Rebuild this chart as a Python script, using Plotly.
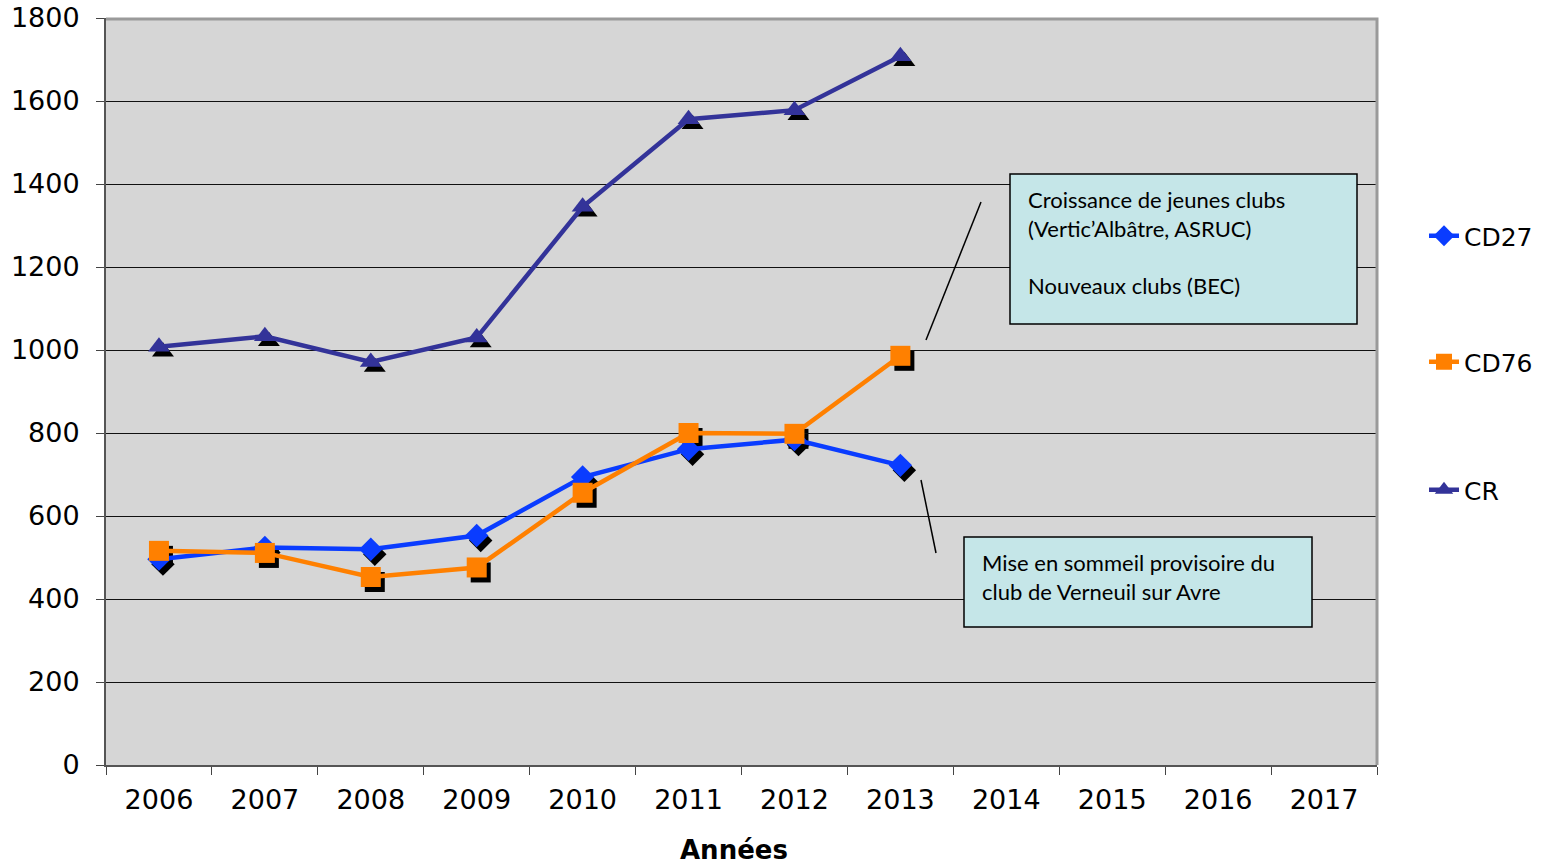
import plotly.graph_objects as go

years = ["2006", "2007", "2008", "2009", "2010", "2011", "2012", "2013",
         "2014", "2015", "2016", "2017"]
obs_years = years[:8]
cd27 = [496, 524, 520, 553, 694, 761, 784, 722]
cd76 = [516, 511, 453, 476, 656, 800, 798, 986]
cr = [1008, 1033, 971, 1030, 1345, 1556, 1578, 1708]

y_ticks = [0, 200, 400, 600, 800, 1000, 1200, 1400, 1600, 1800]

x_title = "Années"
note_top = "Croissance de jeunes clubs<br>(Vertic’Albâtre, ASRUC)<br><br>Nouveaux clubs (BEC)"
note_bottom = "Mise en sommeil provisoire du<br>club de Verneuil sur Avre"

C27 = "#0a3cff"
C76 = "#ff8000"
CCR = "#333399"
BG = "#d6d6d6"
BOX = "#c5e6e8"

W, H = 1542, 865
L = 106
T = 18
R = W - 1381
B = H - 770
PW = W - L - R
PH = H - T - B
DX, DY = 4, 5


def px(x):
    return (x - L) / PW


def py(y):
    return (H - B - y) / PH


fig = go.Figure()

series = [("CD27", cd27, C27, "diamond", 18),
          ("CD76", cd76, C76, "square", 20),
          ("CR", cr, CCR, "triangle-up", 19)]

# shadows (drawn first, on offset axes)
for name, vals, col, sym, sz in series:
    fig.add_trace(go.Scatter(x=obs_years, y=vals, mode="markers",
                             marker=dict(symbol=sym, size=sz, color="black", line=dict(width=0)),
                             xaxis="x", yaxis="y", showlegend=False, hoverinfo="skip"))

legend_names = {"CD27": "legend", "CD76": "legend2", "CR": "legend3"}
for name, vals, col, sym, sz in series:
    fig.add_trace(go.Scatter(x=obs_years, y=vals, mode="lines+markers", name=name,
                             line=dict(color=col, width=4.5),
                             marker=dict(symbol=sym, size=sz, color=col, line=dict(width=0)),
                             xaxis="x2", yaxis="y2", legend=legend_names[name]))

axis_common_x = dict(type="category", categoryorder="array", categoryarray=years,
                     range=[-0.5, 11.5], automargin=False)
axis_common_y = dict(range=[0, 1800], automargin=False)


def leg(ypx):
    return dict(xref="container", yref="container", x=1424 / W,
                y=1 - ypx / H,
                xanchor="left", yanchor="middle", bgcolor="rgba(0,0,0,0)",
                font=dict(family="DejaVu Sans", size=25, color="black"))


fig.update_layout(
    template="none",
    width=W, height=H,
    margin=dict(l=L, r=R, t=T, b=B, autoexpand=False),
    paper_bgcolor="white",
    plot_bgcolor="rgba(0,0,0,0)",
    font=dict(family="DejaVu Sans", size=26, color="black"),
    xaxis=dict(**axis_common_x, domain=[DX / PW, 1], anchor="y", visible=False,
               showgrid=False),
    yaxis=dict(**axis_common_y, domain=[0, (PH - DY) / PH], anchor="x", visible=False,
               showgrid=False),
    xaxis2=dict(**axis_common_x, domain=[0, (PW - DX) / PW], anchor="y2",
                tickson="boundaries", ticks="outside", ticklen=8, tickwidth=1.2,
                tickcolor="#444", showline=True, linecolor="#555", linewidth=2,
                showgrid=False, ticklabelstandoff=10, ticklabeloverflow="allow",
                tickfont=dict(family="DejaVu Sans", size=27, color="black")),
    yaxis2=dict(**axis_common_y, domain=[DY / PH, 1], anchor="x2",
                tickvals=y_ticks, ticks="outside", ticklen=8, tickwidth=1.2,
                tickcolor="#444", showline=True, linecolor="#555", linewidth=2,
                showgrid=True, gridcolor="#111", gridwidth=1, zeroline=False,
                ticklabelstandoff=11, ticklabeloverflow="allow",
                tickfont=dict(family="DejaVu Sans", size=27, color="black")),
    legend=leg(236),
    legend2=leg(362),
    legend3=leg(490),
)

shapes = [
    # plot background
    dict(type="rect", xref="paper", yref="paper", x0=px(106), x1=px(1377),
         y0=py(765), y1=py(18), fillcolor=BG, line=dict(width=0), layer="below"),
    # top/right frame
    dict(type="path", xref="paper", yref="paper",
         path=f"M {px(106)},{py(19)} L {px(1377)},{py(19)} L {px(1377)},{py(765)}",
         line=dict(color="#9a9a9a", width=3), layer="above"),
    # note boxes
    dict(type="rect", xref="paper", yref="paper", x0=px(1010), x1=px(1357),
         y0=py(324), y1=py(174), fillcolor=BOX, line=dict(color="black", width=1.5)),
    dict(type="rect", xref="paper", yref="paper", x0=px(964), x1=px(1312),
         y0=py(627), y1=py(537), fillcolor=BOX, line=dict(color="black", width=1.5)),
    # leader lines
    dict(type="line", xref="paper", yref="paper", x0=px(981), y0=py(202),
         x1=px(926), y1=py(340), line=dict(color="black", width=1.5)),
    dict(type="line", xref="paper", yref="paper", x0=px(921), y0=py(480),
         x1=px(936), y1=py(553), line=dict(color="black", width=1.5)),
]
fig.update_layout(shapes=shapes)

fig.add_annotation(text=note_top, xref="paper", yref="paper", x=px(1026), y=py(184),
                   xanchor="left", yanchor="top", align="left", showarrow=False,
                   font=dict(family="Lato", size=22, color="black"))
fig.add_annotation(text=note_bottom, xref="paper", yref="paper", x=px(980), y=py(547),
                   xanchor="left", yanchor="top", align="left", showarrow=False,
                   font=dict(family="Lato", size=22, color="black"))
fig.add_annotation(text=f"<b>{x_title}</b>", xref="paper", yref="paper",
                   x=px(734), y=py(850), xanchor="center", yanchor="middle",
                   showarrow=False,
                   font=dict(family="DejaVu Sans", size=26, color="black"))

fig.write_html("out.html", config={"displayModeBar": False},
               post_script="document.body.style.margin='0';")
